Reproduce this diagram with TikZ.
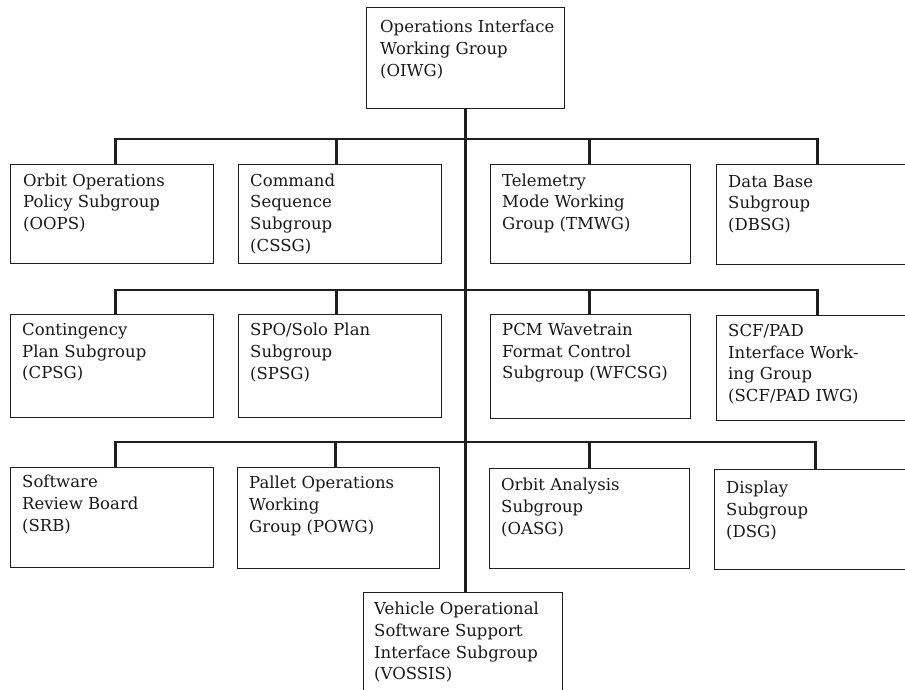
\documentclass[tikz,border=0pt]{standalone}
\usepackage{fontspec}
\setmainfont{DejaVu Serif}
\begin{document}
\begin{tikzpicture}[x=1pt,y=-1pt,
  orgbox/.style={draw=black!88, line width=1.2pt, rectangle, anchor=north west, inner sep=0pt},
  orgtxt/.style={anchor=north west, align=left, inner sep=0pt, text=black!90, font=\fontsize{16.5}{21.7}\selectfont},
  bar/.style={draw=black!88, line width=2.6pt}]
\useasboundingbox (0,0) rectangle (905,689);
\clip (0,0) rectangle (905,689);
% top box
\node[orgbox, minimum width=198pt, minimum height=101pt] (oiwg) at (366,7) {};
\node[orgtxt] (oiwg-t) at ([xshift=14pt,yshift=-13pt]oiwg.north west) {Operations Interface\\Working Group\\(OIWG)};
% row 1
\node[orgbox, minimum width=203pt, minimum height=99pt] (oops) at (10,164) {};
\node[orgbox, minimum width=203pt, minimum height=99pt] (cssg) at (238,164) {};
\node[orgbox, minimum width=200pt, minimum height=99pt] (tmwg) at (490,164) {};
\node[orgbox, minimum width=202pt, minimum height=100pt] (dbsg) at (716,164) {};
\node[orgtxt] (oops-t) at ([xshift=13pt,yshift=-9.5pt]oops.north west) {Orbit Operations\\Policy Subgroup\\(OOPS)};
\node[orgtxt] (cssg-t) at ([xshift=12pt,yshift=-9.5pt]cssg.north west) {Command\\Sequence\\Subgroup\\(CSSG)};
\node[orgtxt] (tmwg-t) at ([xshift=12pt,yshift=-9.5pt]tmwg.north west) {Telemetry\\Mode Working\\Group (TMWG)};
\node[orgtxt] (dbsg-t) at ([xshift=12pt,yshift=-11pt]dbsg.north west) {Data Base\\Subgroup\\(DBSG)};
% row 2
\node[orgbox, minimum width=203pt, minimum height=103pt] (cpsg) at (10,314) {};
\node[orgbox, minimum width=203pt, minimum height=103pt] (spsg) at (238,314) {};
\node[orgbox, minimum width=200pt, minimum height=104pt] (wfcsg) at (490,314) {};
\node[orgbox, minimum width=202pt, minimum height=105pt] (scf) at (716,315) {};
\node[orgtxt] (cpsg-t) at ([xshift=12pt,yshift=-9pt]cpsg.north west) {Contingency\\Plan Subgroup\\(CPSG)};
\node[orgtxt] (spsg-t) at ([xshift=12pt,yshift=-9pt]spsg.north west) {SPO/Solo Plan\\Subgroup\\(SPSG)};
\node[orgtxt] (wfcsg-t) at ([xshift=12pt,yshift=-9pt]wfcsg.north west) {PCM Wavetrain\\Format Control\\Subgroup (WFCSG)};
\node[orgtxt] (scf-t) at ([xshift=12pt,yshift=-9pt]scf.north west) {SCF/PAD\\Interface Work-\\ing Group\\(SCF/PAD IWG)};
% row 3
\node[orgbox, minimum width=203pt, minimum height=100pt] (srb) at (10,467) {};
\node[orgbox, minimum width=202pt, minimum height=101pt] (powg) at (237,467) {};
\node[orgbox, minimum width=200pt, minimum height=100pt] (oasg) at (489,468) {};
\node[orgbox, minimum width=204pt, minimum height=100pt] (dsg) at (714,469) {};
\node[orgtxt] (srb-t) at ([xshift=12pt,yshift=-8pt]srb.north west) {Software\\Review Board\\(SRB)};
\node[orgtxt] (powg-t) at ([xshift=12pt,yshift=-9pt]powg.north west) {Pallet Operations\\Working\\Group (POWG)};
\node[orgtxt] (oasg-t) at ([xshift=12pt,yshift=-10pt]oasg.north west) {Orbit Analysis\\Subgroup\\(OASG)};
\node[orgtxt] (dsg-t) at ([xshift=12pt,yshift=-12pt]dsg.north west) {Display\\Subgroup\\(DSG)};
% bottom box
\node[orgbox, minimum width=199pt, minimum height=110pt] (vossis) at (363,592) {};
\node[orgtxt] (vossis-t) at ([xshift=11pt,yshift=-10pt]vossis.north west) {Vehicle Operational\\Software Support\\Interface Subgroup\\(VOSSIS)};
% junctions
\coordinate (j1) at (465,139);
\coordinate (j2) at (465,290);
\coordinate (j3) at (465,442);
\coordinate (d1a) at ([xshift=3.5pt]oops.north);
\coordinate (d1b) at ([xshift=-3.5pt]cssg.north);
\coordinate (d1c) at ([xshift=-1pt]tmwg.north);
\coordinate (d2a) at ([xshift=3.5pt]cpsg.north);
\coordinate (d2b) at ([xshift=-3.5pt]spsg.north);
\coordinate (d2c) at ([xshift=-1pt]wfcsg.north);
\coordinate (d3a) at ([xshift=3.5pt]srb.north);
\coordinate (d3b) at ([xshift=-3pt]powg.north);
\coordinate (d3c) at (oasg.north);
\coordinate (d3d) at ([xshift=-1pt]dsg.north);
% connectors
\draw[bar] (oiwg.south) -- (oiwg.south |- vossis.north);
\draw[bar] (d1a) |- (j1) -| (dbsg.north);
\draw[bar] (d1b) -- (d1b |- j1);
\draw[bar] (d1c) -- (d1c |- j1);
\draw[bar] (d2a) |- (j2) -| (scf.north);
\draw[bar] (d2b) -- (d2b |- j2);
\draw[bar] (d2c) -- (d2c |- j2);
\draw[bar] (d3a) |- (j3) -| (d3d);
\draw[bar] (d3b) -- (d3b |- j3);
\draw[bar] (d3c) -- (d3c |- j3);
\end{tikzpicture}
\end{document}
